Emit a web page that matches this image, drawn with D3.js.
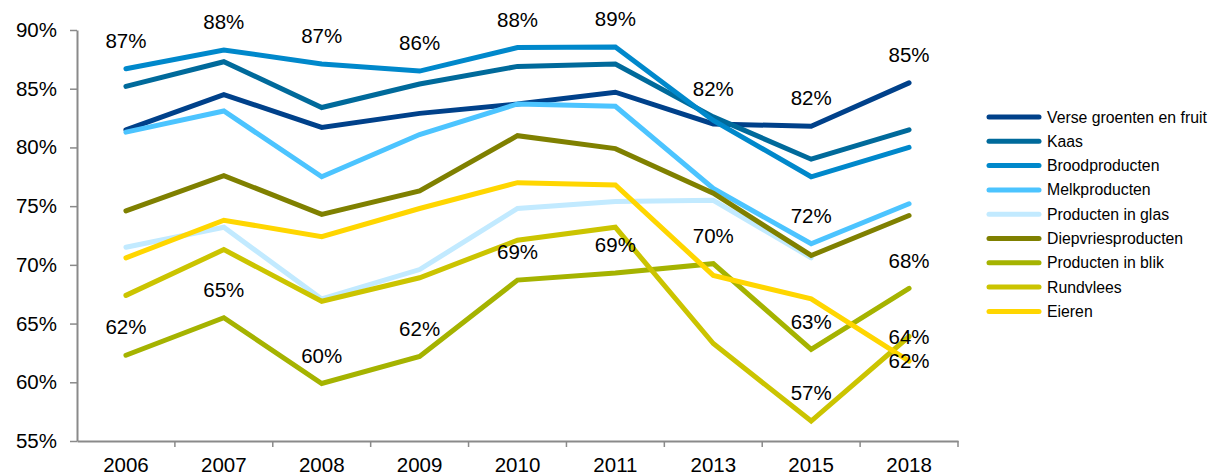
<!DOCTYPE html>
<html>
<head>
<meta charset="utf-8">
<script src="https://cdn.jsdelivr.net/npm/d3@7"></script>
<style>
  body { margin: 0; background: #fff; }
  text { font-family: "Liberation Sans", Arial, sans-serif; fill: #000; }
</style>
</head>
<body>
<div id="chart"></div>
<script>
// years on the x axis
const years = ["2006", "2007", "2008", "2009", "2010", "2011", "2013", "2015", "2018"];
const yTicks = [55, 60, 65, 70, 75, 80, 85, 90];

// series values (percent)
const verse = [81.5, 84.5, 81.7, 82.9, 83.7, 84.7, 82.0, 81.8, 85.5];
const kaas = [85.2, 87.3, 83.4, 85.4, 86.9, 87.1, 82.6, 79.0, 81.5];
const brood = [86.7, 88.3, 87.1, 86.5, 88.5, 88.55, 82.3, 77.5, 80.0];
const melk = [81.3, 83.1, 77.5, 81.1, 83.7, 83.5, 76.5, 71.8, 75.2];
const glas = [71.5, 73.2, 67.1, 69.6, 74.8, 75.4, 75.5, 70.6, null];
const diepvries = [74.6, 77.6, 74.3, 76.3, 81.0, 79.9, 76.1, 70.8, 74.2];
const blik = [62.3, 65.5, 59.9, 62.2, 68.7, 69.3, 70.1, 62.8, 68.0];
const rundvlees = [67.4, 71.3, 66.9, 68.9, 72.1, 73.2, 63.3, 56.7, 63.9];
const eieren = [70.6, 73.8, 72.4, 74.8, 77.0, 76.8, 69.1, 67.1, 61.8];

const seriesNames = ["Verse groenten en fruit", "Kaas", "Broodproducten", "Melkproducten",
  "Producten in glas", "Diepvriesproducten", "Producten in blik", "Rundvlees", "Eieren"];
const seriesValues = [verse, kaas, brood, melk, glas, diepvries, blik, rundvlees, eieren];
const seriesColors = ["#00418a", "#006a9b", "#0088cb", "#4cc4ff", "#c2eaff",
  "#7f8000", "#a5b300", "#cbc400", "#ffd600"];

// data labels
const topLabels = ["87%", "88%", "87%", "86%", "88%", "89%", "82%", "82%", "85%"];
const blikLabels = ["62%", "65%", "60%", "62%", "69%", "69%", "70%", "63%", "68%"];
// extra labels: [series index, year, text, placement]
const extraLabels = [
  [3, "2015", "72%", "above"],
  [7, "2015", "57%", "above"],
  [7, "2018", "64%", "center"],
  [8, "2018", "62%", "center"]
];

const width = 1211, height = 475;
const margin = {left: 77, top: 30, right: 253, bottom: 34};
const innerW = width - margin.left - margin.right;
const innerH = height - margin.top - margin.bottom;

const svg = d3.select("#chart").append("svg")
  .attr("width", width)
  .attr("height", height);

const g = svg.append("g")
  .attr("transform", `translate(${margin.left}, ${margin.top})`);

const x = d3.scaleBand().domain(years).range([0, innerW]);
const y = d3.scaleLinear().domain([55, 90]).range([innerH, 0]);
const cx = d => x(d) + x.bandwidth() / 2;

// y axis
const yAxis = g.append("g")
  .call(d3.axisLeft(y).tickValues(yTicks).tickSize(7).tickSizeOuter(0)
    .tickPadding(13).tickFormat(d => d + "%"));
yAxis.select(".domain").attr("stroke", "#8a8a8a").attr("stroke-width", 2);
yAxis.selectAll(".tick line").attr("stroke", "#8a8a8a").attr("stroke-width", 1.5);
yAxis.selectAll(".tick text").style("font-size", "20.5px")
  .style("font-family", "'Liberation Sans', Arial, sans-serif");

// x axis: labels centered, tick marks on band boundaries
const xAxis = g.append("g")
  .attr("transform", `translate(0, ${innerH})`)
  .call(d3.axisBottom(x).tickSize(0).tickPadding(16).tickSizeOuter(0));
xAxis.select(".domain").attr("stroke", "#8a8a8a").attr("stroke-width", 2);
xAxis.selectAll(".tick text").style("font-size", "20.5px")
  .style("font-family", "'Liberation Sans', Arial, sans-serif");
xAxis.selectAll(".bound")
  .data(d3.range(1, years.length + 1))
  .enter().append("line")
  .attr("x1", i => i * x.step())
  .attr("x2", i => i * x.step())
  .attr("y1", 0)
  .attr("y2", 6)
  .attr("stroke", "#8a8a8a")
  .attr("stroke-width", 1.5);

// lines
const line = d3.line()
  .defined(d => d.v != null)
  .x(d => cx(d.year))
  .y(d => y(d.v));

seriesValues.forEach((vals, i) => {
  g.append("path")
    .datum(years.map((yr, j) => ({year: yr, v: vals[j]})))
    .attr("fill", "none")
    .attr("stroke", seriesColors[i])
    .attr("stroke-width", 5)
    .attr("stroke-linecap", "round")
    .attr("stroke-linejoin", "miter")
    .attr("d", line);
});

// labels
const labelGroup = g.append("g").style("font-size", "20.5px").attr("text-anchor", "middle");
years.forEach((yr, j) => {
  const top = d3.max(seriesValues, s => s[j]);
  labelGroup.append("text")
    .attr("x", cx(yr))
    .attr("y", y(top) - 28)
    .attr("dy", "0.35em")
    .text(topLabels[j]);
  labelGroup.append("text")
    .attr("x", cx(yr))
    .attr("y", y(blik[j]) - 28)
    .attr("dy", "0.35em")
    .text(blikLabels[j]);
});
extraLabels.forEach(([si, yr, txt, place]) => {
  const j = years.indexOf(yr);
  labelGroup.append("text")
    .attr("x", cx(yr))
    .attr("y", y(seriesValues[si][j]) - (place === "above" ? 28 : 0))
    .attr("dy", "0.35em")
    .text(txt);
});

// legend
const legend = svg.append("g").attr("transform", "translate(989, 117)");
seriesNames.forEach((name, i) => {
  const row = legend.append("g").attr("transform", `translate(0, ${i * 24.3})`);
  row.append("line")
    .attr("x1", 0).attr("x2", 50)
    .attr("stroke", seriesColors[i])
    .attr("stroke-width", 5)
    .attr("stroke-linecap", "round");
  row.append("text")
    .attr("x", 58)
    .attr("dy", "0.35em")
    .style("font-size", "15.8px")
    .text(name);
});
</script>
</body>
</html>
